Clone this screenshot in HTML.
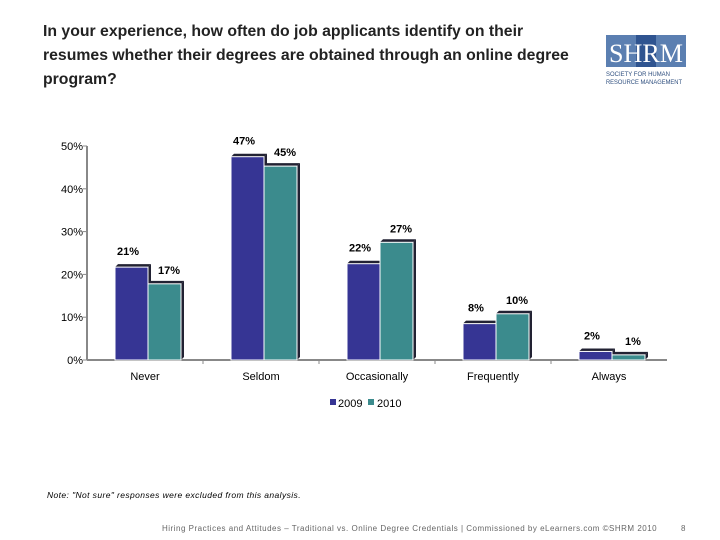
<!DOCTYPE html>
<html><head><meta charset="utf-8"><style>
body{margin:0;width:720px;height:540px;background:#fff;position:relative;overflow:hidden;font-family:"Liberation Sans",sans-serif}
.title{position:absolute;left:43px;top:20px;width:535px;font-size:15.8px;line-height:24px;font-weight:bold;color:#222}
.logo{position:absolute;left:606px;top:35px}
.note{position:absolute;left:47px;top:490px;font-size:8.5px;font-style:italic;letter-spacing:0.4px}
.foot{position:absolute;left:162px;top:524px;font-size:8px;color:#666;letter-spacing:0.5px}
.pg{position:absolute;left:681px;top:524px;font-size:8px;color:#666}
</style></head><body>
<div class="title">In your experience, how often do job applicants identify on their resumes whether their degrees are obtained through an online degree program?</div>
<div class="logo">
<svg width="84" height="52"><rect x="0" y="0" width="80" height="32" fill="#5b7fb1"/><rect x="30" y="0" width="20" height="32" fill="#2f5490"/>
<text x="3" y="27" font-family="Liberation Serif" font-size="26" fill="#fff" textLength="74" lengthAdjust="spacingAndGlyphs">SHRM</text>
<text x="0" y="41" font-size="6.5" fill="#2f4f7f" textLength="64" lengthAdjust="spacingAndGlyphs">SOCIETY FOR HUMAN</text>
<text x="0" y="49" font-size="6.5" fill="#2f4f7f" textLength="76" lengthAdjust="spacingAndGlyphs">RESOURCE MANAGEMENT</text></svg></div>
<svg id="chart" width="720" height="420" style="position:absolute;left:0;top:0"></svg>
<div class="note">Note: "Not sure" responses were excluded from this analysis.</div>
<div class="foot">Hiring Practices and Attitudes – Traditional vs. Online Degree Credentials | Commissioned by eLearners.com ©SHRM 2010</div>
<div class="pg">8</div>
<script>
const categories=["Never","Seldom","Occasionally","Frequently","Always"];
const values2009=[21.7,47.5,22.5,8.5,2];
const values2010=[17.8,45.3,27.5,10.8,1.2];
const labels2009=["21%","47%","22%","8%","2%"];
const labels2010=["17%","45%","27%","10%","1%"];
const yTicks=[0,10,20,30,40,50];
const svg=document.getElementById('chart');const NS='http://www.w3.org/2000/svg';
function y(v){return 360-v*4.28}
function x(i){return 87+116*i+58}
function mk(t,a,p){const e=document.createElementNS(NS,t);for(const k in a)e.setAttribute(k,a[k]);(p||svg).appendChild(e);return e}
mk('line',{x1:87,y1:146,x2:87,y2:360,stroke:'#888','stroke-width':2});
mk('line',{x1:87,y1:360,x2:667,y2:360,stroke:'#888','stroke-width':2});
yTicks.forEach(t=>{mk('line',{x1:83,y1:y(t),x2:87,y2:y(t),stroke:'#888'});
const tx=mk('text',{x:83,y:y(t)+4,'text-anchor':'end','font-size':11});tx.textContent=t+'%';
});
for(let i=1;i<5;i++)mk('line',{x1:87+116*i,y1:360,x2:87+116*i,y2:364,stroke:'#888'});
function bar(x0,v,col,nm){const t=y(v);
const g=mk('g',{});
mk('polygon',{points:`${x0},${t} ${x0+3},${t-3} ${x0+36},${t-3} ${x0+33},${t}`,fill:'#223'},g);
mk('polygon',{points:`${x0+33},${t} ${x0+36},${t-3} ${x0+36},${357} ${x0+33},360`,fill:'#223'},g);
mk('rect',{x:x0,y:t,width:33,height:360-t,fill:col,stroke:'#fff','stroke-width':1},g);return t;}
categories.forEach((c,i)=>{const cx=x(i);
const t1=bar(cx-30,values2009[i],'#363594','bar-2009-'+c.toLowerCase());
const t2=bar(cx+3,values2010[i],'#3b8b8d','bar-2010-'+c.toLowerCase());
const l1=mk('text',{x:cx-17,y:t1-12,'text-anchor':'middle','font-size':11,'font-weight':'bold'});l1.textContent=labels2009[i];

const l2=mk('text',{x:cx+24,y:t2-10,'text-anchor':'middle','font-size':11,'font-weight':'bold'});l2.textContent=labels2010[i];

const cl=mk('text',{x:cx,y:380,'text-anchor':'middle','font-size':11});cl.textContent=c;
});
const lg=mk('g',{});
mk('rect',{x:330,y:399,width:6,height:6,fill:'#363594'},lg);
mk('text',{x:338,y:407,'font-size':11},lg).textContent='2009';
mk('rect',{x:368,y:399,width:6,height:6,fill:'#3b8b8d'},lg);
mk('text',{x:377,y:407,'font-size':11},lg).textContent='2010';
</script>
</body></html>
